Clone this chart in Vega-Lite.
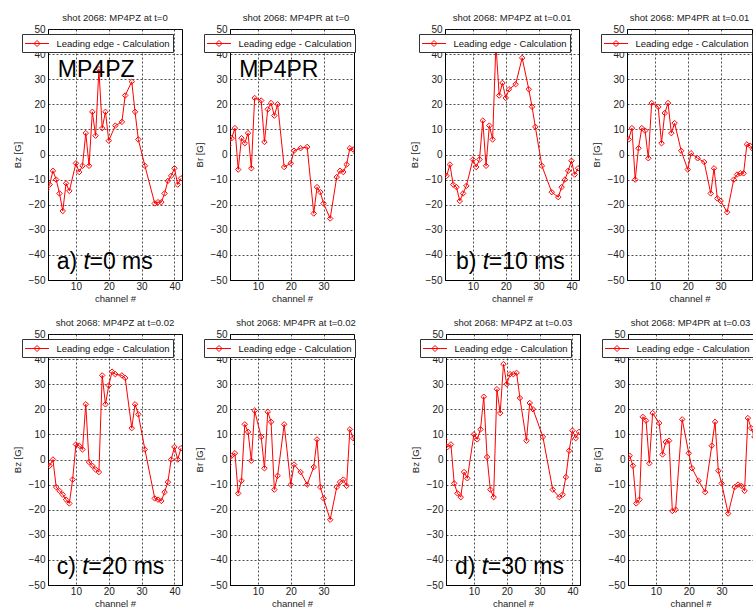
{
  "$schema": "https://vega.github.io/schema/vega-lite/v6.json",
  "padding": {"left": 11, "top": 12, "right": 0, "bottom": 0},
  "background": "#ffffff",
  "datasets": {
    "p1": [
      {"channel":1,"B":-14},{"channel":2,"B":-12},{"channel":3,"B":-6.5},{"channel":4,"B":-10},{"channel":5,"B":-15.5},{"channel":6,"B":-22.5},{"channel":7,"B":-11.5},{"channel":8,"B":-14.5},{"channel":10,"B":-3.5},{"channel":11,"B":-7},{"channel":12,"B":-4.5},{"channel":13,"B":8.5},{"channel":14,"B":-4.5},{"channel":15,"B":17},{"channel":16,"B":7.5},{"channel":17,"B":34},{"channel":18,"B":10.5},{"channel":19,"B":17},{"channel":20,"B":5.5},{"channel":22,"B":11.5},{"channel":24,"B":13},{"channel":25,"B":23.5},{"channel":27,"B":29},{"channel":28,"B":17},{"channel":29,"B":6},{"channel":31,"B":-4.5},{"channel":34,"B":-19.5},{"channel":35,"B":-19},{"channel":36,"B":-19},{"channel":37,"B":-15.5},{"channel":38,"B":-10.5},{"channel":39,"B":-8.5},{"channel":40,"B":-5.5},{"channel":41,"B":-12},{"channel":42,"B":-9.5}
    ],
    "p2": [
      {"channel":1,"B":3.5},{"channel":2,"B":6.5},{"channel":3,"B":10.5},{"channel":4,"B":-6},{"channel":5,"B":6.5},{"channel":6,"B":4.5},{"channel":7,"B":8.5},{"channel":8,"B":-5.5},{"channel":9,"B":22.5},{"channel":11,"B":21.5},{"channel":12,"B":5},{"channel":13,"B":18},{"channel":14,"B":20.5},{"channel":15,"B":15.5},{"channel":16,"B":20},{"channel":18,"B":-5},{"channel":20,"B":-3.5},{"channel":21,"B":1.5},{"channel":23,"B":2.5},{"channel":25,"B":3},{"channel":27,"B":-23.5},{"channel":28,"B":-13},{"channel":29,"B":-15},{"channel":30,"B":-19.5},{"channel":32,"B":-25.5},{"channel":34,"B":-9},{"channel":35,"B":-6.5},{"channel":36,"B":-7},{"channel":37,"B":-4},{"channel":38,"B":2.5},{"channel":39,"B":2},{"channel":40,"B":0.5},{"channel":41,"B":1.5},{"channel":42,"B":1}
    ],
    "p3": [
      {"channel":1,"B":-8},{"channel":2,"B":-8.5},{"channel":3,"B":-4},{"channel":4,"B":-12},{"channel":5,"B":-13},{"channel":6,"B":-18.5},{"channel":7,"B":-15.5},{"channel":8,"B":-12.5},{"channel":10,"B":-2},{"channel":11,"B":-5},{"channel":12,"B":-2},{"channel":13,"B":13.5},{"channel":14,"B":-4.5},{"channel":15,"B":11.5},{"channel":16,"B":6},{"channel":17,"B":44},{"channel":18,"B":23.5},{"channel":19,"B":28.5},{"channel":20,"B":22.5},{"channel":21,"B":26},{"channel":23,"B":28},{"channel":25,"B":38.5},{"channel":27,"B":26},{"channel":28,"B":19},{"channel":29,"B":11},{"channel":31,"B":-4.5},{"channel":34,"B":-15},{"channel":36,"B":-17},{"channel":37,"B":-13},{"channel":38,"B":-10},{"channel":39,"B":-6.5},{"channel":40,"B":-2.5},{"channel":41,"B":-8},{"channel":42,"B":-5.5}
    ],
    "p4": [
      {"channel":1,"B":6.5},{"channel":2,"B":6},{"channel":3,"B":10.5},{"channel":4,"B":-10},{"channel":5,"B":2.5},{"channel":6,"B":10.5},{"channel":7,"B":9.5},{"channel":8,"B":-1.5},{"channel":9,"B":20.5},{"channel":11,"B":19},{"channel":12,"B":4.5},{"channel":13,"B":16.5},{"channel":14,"B":20.5},{"channel":15,"B":8.5},{"channel":16,"B":12.5},{"channel":18,"B":1.5},{"channel":20,"B":-6},{"channel":21,"B":0.5},{"channel":23,"B":-1.5},{"channel":25,"B":-3},{"channel":27,"B":-15.5},{"channel":28,"B":-5.5},{"channel":29,"B":-17.5},{"channel":30,"B":-18.5},{"channel":32,"B":-23},{"channel":34,"B":-10},{"channel":35,"B":-8},{"channel":36,"B":-7.5},{"channel":37,"B":-7.5},{"channel":38,"B":4},{"channel":39,"B":3.5},{"channel":40,"B":2},{"channel":41,"B":3},{"channel":42,"B":2}
    ],
    "p5": [
      {"channel":1,"B":-2},{"channel":2,"B":-2.5},{"channel":3,"B":0},{"channel":4,"B":-11},{"channel":5,"B":-12.5},{"channel":6,"B":-14},{"channel":7,"B":-16},{"channel":8,"B":-17.5},{"channel":9,"B":-8},{"channel":10,"B":6},{"channel":11,"B":5.5},{"channel":12,"B":4},{"channel":13,"B":22},{"channel":14,"B":-1},{"channel":15,"B":-2.5},{"channel":16,"B":-4},{"channel":17,"B":-5},{"channel":18,"B":33.5},{"channel":19,"B":22},{"channel":20,"B":29.5},{"channel":21,"B":35},{"channel":22,"B":34},{"channel":24,"B":33.5},{"channel":25,"B":32.5},{"channel":27,"B":12.5},{"channel":28,"B":22},{"channel":29,"B":18},{"channel":31,"B":4},{"channel":34,"B":-15.5},{"channel":35,"B":-16},{"channel":36,"B":-16.5},{"channel":37,"B":-13},{"channel":38,"B":-9},{"channel":39,"B":0},{"channel":40,"B":5},{"channel":41,"B":0},{"channel":42,"B":4.5}
    ],
    "p6": [
      {"channel":1,"B":-2},{"channel":2,"B":1.5},{"channel":3,"B":2.5},{"channel":4,"B":-13.5},{"channel":5,"B":-8.5},{"channel":6,"B":14},{"channel":7,"B":11},{"channel":8,"B":-0.5},{"channel":9,"B":19.5},{"channel":11,"B":9},{"channel":12,"B":-3.5},{"channel":13,"B":19},{"channel":14,"B":15},{"channel":15,"B":-12},{"channel":16,"B":-6.5},{"channel":18,"B":14},{"channel":20,"B":-10},{"channel":21,"B":-2},{"channel":23,"B":-5},{"channel":25,"B":-10},{"channel":27,"B":-3},{"channel":28,"B":8},{"channel":29,"B":-11},{"channel":30,"B":-15.5},{"channel":32,"B":-24},{"channel":34,"B":-11},{"channel":35,"B":-9},{"channel":36,"B":-8},{"channel":37,"B":-10.5},{"channel":38,"B":12},{"channel":39,"B":8.5},{"channel":40,"B":6},{"channel":41,"B":5},{"channel":42,"B":3}
    ],
    "p7": [
      {"channel":1,"B":8},{"channel":2,"B":5},{"channel":3,"B":6},{"channel":4,"B":-9.5},{"channel":5,"B":-13.5},{"channel":6,"B":-15},{"channel":7,"B":-5},{"channel":8,"B":-7.5},{"channel":10,"B":10},{"channel":11,"B":8},{"channel":12,"B":12},{"channel":13,"B":25},{"channel":14,"B":1},{"channel":15,"B":-12},{"channel":16,"B":-15},{"channel":17,"B":28},{"channel":18,"B":18.5},{"channel":19,"B":38},{"channel":20,"B":30},{"channel":21,"B":34},{"channel":22,"B":34},{"channel":23,"B":34.5},{"channel":24,"B":24.5},{"channel":26,"B":7.5},{"channel":27,"B":22.5},{"channel":28,"B":20},{"channel":31,"B":9},{"channel":34,"B":-12},{"channel":36,"B":-15},{"channel":37,"B":-14},{"channel":38,"B":-7},{"channel":39,"B":3.5},{"channel":40,"B":11.5},{"channel":41,"B":8.5},{"channel":42,"B":11}
    ],
    "p8": [
      {"channel":1,"B":-0.5},{"channel":2,"B":1.5},{"channel":3,"B":-2.5},{"channel":4,"B":-17.5},{"channel":5,"B":-16},{"channel":6,"B":17},{"channel":7,"B":15.5},{"channel":8,"B":-1.5},{"channel":9,"B":18.5},{"channel":11,"B":14.5},{"channel":12,"B":2},{"channel":13,"B":7},{"channel":14,"B":7.5},{"channel":15,"B":-20.5},{"channel":16,"B":-20},{"channel":18,"B":16},{"channel":20,"B":2.5},{"channel":21,"B":-3.5},{"channel":23,"B":-8.5},{"channel":25,"B":-13},{"channel":27,"B":5.5},{"channel":28,"B":15},{"channel":29,"B":-4.5},{"channel":30,"B":-9.5},{"channel":32,"B":-21.5},{"channel":34,"B":-11},{"channel":35,"B":-10},{"channel":36,"B":-10.5},{"channel":37,"B":-12.5},{"channel":38,"B":16.5},{"channel":39,"B":12.5},{"channel":40,"B":9},{"channel":41,"B":12},{"channel":42,"B":10}
    ]
  },
  "spacing": 14,
  "resolve": {"scale": {"color": "independent"}, "legend": {"color": "independent"}},
  "vconcat": [
    {
      "spacing": 52,
      "resolve": {"scale": {"color": "independent"}, "legend": {"color": "independent"}},
      "hconcat": [
        {
          "spacing": 10,
          "resolve": {"scale": {"color": "independent"}, "legend": {"color": "independent"}},
          "hconcat": [
            {
              "width": 134, "height": 251,
              "title": "shot 2068: MP4PZ at t=0",
              "resolve": {"axis": {"x": "independent", "y": "independent"}},
              "layer": [
                {"data": {"name": "p1"},
                 "mark": {"type": "line", "strokeWidth": 1, "clip": true, "point": {"shape": "diamond", "filled": false, "size": 30, "strokeWidth": 1}},
                 "encoding": {
                   "x": {"field": "channel", "type": "quantitative", "scale": {"domain": [1.5, 42.3], "nice": false, "zero": false}, "axis": {"values": [10, 20, 30, 40], "title": "channel #"}},
                   "y": {"field": "B", "type": "quantitative", "scale": {"domain": [-50, 50], "nice": false}, "axis": {"values": [-50, -40, -30, -20, -10, 0, 10, 20, 30, 40, 50], "title": "Bz [G]"}},
                   "color": {"datum": "Leading edge - Calculation", "scale": {"range": ["#ff0000"]}, "legend": {"title": null, "orient": "none", "legendX": -26, "legendY": 5, "padding": 3, "strokeColor": "#333333", "fillColor": "#ffffff", "labelFontSize": 9.5, "labelColor": "#111111", "symbolType": "M-2,0L2,0M0,-0.5L0.5,0L0,0.5L-0.5,0Z", "symbolSize": 144, "symbolStrokeWidth": 1, "symbolOffset": 5.5, "labelOffset": 13, "symbolStrokeColor": "#ff0000", "symbolFillColor": "transparent", "labelLimit": 300}}
                 }},
                {"data": {"values": [{}]}, "mark": {"type": "text", "align": "left", "baseline": "middle", "fontSize": 23, "color": "#000000"}, "encoding": {"x": {"datum": 4.5, "axis": null}, "y": {"datum": 33.7, "axis": null}, "text": {"value": "MP4PZ"}}},
                {"data": {"values": [{}]}, "mark": {"type": "text", "align": "left", "baseline": "middle", "fontSize": 23, "color": "#000000"}, "encoding": {"x": {"datum": 4.15, "axis": null}, "y": {"datum": -42.8, "axis": null}, "text": {"value": "a)"}}},
                {"data": {"values": [{}]}, "mark": {"type": "text", "align": "left", "baseline": "middle", "fontSize": 23, "fontStyle": "italic", "color": "#000000", "dx": 26.8}, "encoding": {"x": {"datum": 4.15, "axis": null}, "y": {"datum": -42.8, "axis": null}, "text": {"value": "t"}}},
                {"data": {"values": [{}]}, "mark": {"type": "text", "align": "left", "baseline": "middle", "fontSize": 23, "color": "#000000", "dx": 32.8}, "encoding": {"x": {"datum": 4.15, "axis": null}, "y": {"datum": -42.8, "axis": null}, "text": {"value": "=0 ms"}}}
              ]
            },
            {
              "width": 124, "height": 251,
              "title": {"text": "shot 2068: MP4PR at t=0", "dx": 4},
              "resolve": {"axis": {"x": "independent", "y": "independent"}},
              "layer": [
                {"data": {"name": "p2"},
                 "mark": {"type": "line", "strokeWidth": 1, "clip": true, "point": {"shape": "diamond", "filled": false, "size": 30, "strokeWidth": 1}},
                 "encoding": {
                   "x": {"field": "channel", "type": "quantitative", "scale": {"domain": [1.5, 39.26], "nice": false, "zero": false}, "axis": {"values": [10, 20, 30], "title": "channel #"}},
                   "y": {"field": "B", "type": "quantitative", "scale": {"domain": [-50, 50], "nice": false}, "axis": {"values": [-50, -40, -30, -20, -10, 0, 10, 20, 30, 40, 50], "title": "Br [G]"}},
                   "color": {"datum": "Leading edge - Calculation", "scale": {"range": ["#ff0000"]}, "legend": {"title": null, "orient": "none", "legendX": -26, "legendY": 5, "padding": 3, "strokeColor": "#333333", "fillColor": "#ffffff", "labelFontSize": 9.5, "labelColor": "#111111", "symbolType": "M-2,0L2,0M0,-0.5L0.5,0L0,0.5L-0.5,0Z", "symbolSize": 144, "symbolStrokeWidth": 1, "symbolOffset": 5.5, "labelOffset": 13, "symbolStrokeColor": "#ff0000", "symbolFillColor": "transparent", "labelLimit": 300}}
                 }},
                {"data": {"values": [{}]}, "mark": {"type": "text", "align": "left", "baseline": "middle", "fontSize": 23, "color": "#000000"}, "encoding": {"x": {"datum": 4.3, "axis": null}, "y": {"datum": 33.7, "axis": null}, "text": {"value": "MP4PR"}}}
              ]
            }
          ]
        },
        {
          "spacing": 10,
          "resolve": {"scale": {"color": "independent"}, "legend": {"color": "independent"}},
          "hconcat": [
            {
              "width": 134, "height": 251,
              "title": "shot 2068: MP4PZ at t=0.01",
              "resolve": {"axis": {"x": "independent", "y": "independent"}},
              "layer": [
                {"data": {"name": "p3"},
                 "mark": {"type": "line", "strokeWidth": 1, "clip": true, "point": {"shape": "diamond", "filled": false, "size": 30, "strokeWidth": 1}},
                 "encoding": {
                   "x": {"field": "channel", "type": "quantitative", "scale": {"domain": [1.5, 42.3], "nice": false, "zero": false}, "axis": {"values": [10, 20, 30, 40], "title": "channel #"}},
                   "y": {"field": "B", "type": "quantitative", "scale": {"domain": [-50, 50], "nice": false}, "axis": {"values": [-50, -40, -30, -20, -10, 0, 10, 20, 30, 40, 50], "title": "Bz [G]"}},
                   "color": {"datum": "Leading edge - Calculation", "scale": {"range": ["#ff0000"]}, "legend": {"title": null, "orient": "none", "legendX": -26, "legendY": 5, "padding": 3, "strokeColor": "#333333", "fillColor": "#ffffff", "labelFontSize": 9.5, "labelColor": "#111111", "symbolType": "M-2,0L2,0M0,-0.5L0.5,0L0,0.5L-0.5,0Z", "symbolSize": 144, "symbolStrokeWidth": 1, "symbolOffset": 5.5, "labelOffset": 13, "symbolStrokeColor": "#ff0000", "symbolFillColor": "transparent", "labelLimit": 300}}
                 }},
                {"data": {"values": [{}]}, "mark": {"type": "text", "align": "left", "baseline": "middle", "fontSize": 23, "color": "#000000"}, "encoding": {"x": {"datum": 4.85, "axis": null}, "y": {"datum": -42.8, "axis": null}, "text": {"value": "b)"}}},
                {"data": {"values": [{}]}, "mark": {"type": "text", "align": "left", "baseline": "middle", "fontSize": 23, "fontStyle": "italic", "color": "#000000", "dx": 26.8}, "encoding": {"x": {"datum": 4.85, "axis": null}, "y": {"datum": -42.8, "axis": null}, "text": {"value": "t"}}},
                {"data": {"values": [{}]}, "mark": {"type": "text", "align": "left", "baseline": "middle", "fontSize": 23, "color": "#000000", "dx": 32.8}, "encoding": {"x": {"datum": 4.85, "axis": null}, "y": {"datum": -42.8, "axis": null}, "text": {"value": "=10 ms"}}}
              ]
            },
            {
              "width": 125, "height": 251,
              "title": {"text": "shot 2068: MP4PR at t=0.01", "dx": 0},
              "layer": [
                {"data": {"name": "p4"},
                 "mark": {"type": "line", "strokeWidth": 1, "clip": true, "point": {"shape": "diamond", "filled": false, "size": 30, "strokeWidth": 1}},
                 "encoding": {
                   "x": {"field": "channel", "type": "quantitative", "scale": {"domain": [1.5, 39.56], "nice": false, "zero": false}, "axis": {"values": [10, 20, 30], "title": "channel #"}},
                   "y": {"field": "B", "type": "quantitative", "scale": {"domain": [-50, 50], "nice": false}, "axis": {"values": [-50, -40, -30, -20, -10, 0, 10, 20, 30, 40, 50], "title": "Br [G]"}},
                   "color": {"datum": "Leading edge - Calculation", "scale": {"range": ["#ff0000"]}, "legend": {"title": null, "orient": "none", "legendX": -26, "legendY": 5, "padding": 3, "strokeColor": "#333333", "fillColor": "#ffffff", "labelFontSize": 9.5, "labelColor": "#111111", "symbolType": "M-2,0L2,0M0,-0.5L0.5,0L0,0.5L-0.5,0Z", "symbolSize": 144, "symbolStrokeWidth": 1, "symbolOffset": 5.5, "labelOffset": 13, "symbolStrokeColor": "#ff0000", "symbolFillColor": "transparent", "labelLimit": 300}}
                 }}
              ]
            }
          ]
        }
      ]
    },
    {
      "spacing": 52,
      "resolve": {"scale": {"color": "independent"}, "legend": {"color": "independent"}},
      "hconcat": [
        {
          "spacing": 10,
          "resolve": {"scale": {"color": "independent"}, "legend": {"color": "independent"}},
          "hconcat": [
            {
              "width": 134, "height": 251,
              "title": "shot 2068: MP4PZ at t=0.02",
              "resolve": {"axis": {"x": "independent", "y": "independent"}},
              "layer": [
                {"data": {"name": "p5"},
                 "mark": {"type": "line", "strokeWidth": 1, "clip": true, "point": {"shape": "diamond", "filled": false, "size": 30, "strokeWidth": 1}},
                 "encoding": {
                   "x": {"field": "channel", "type": "quantitative", "scale": {"domain": [1.5, 42.3], "nice": false, "zero": false}, "axis": {"values": [10, 20, 30, 40], "title": "channel #"}},
                   "y": {"field": "B", "type": "quantitative", "scale": {"domain": [-50, 50], "nice": false}, "axis": {"values": [-50, -40, -30, -20, -10, 0, 10, 20, 30, 40, 50], "title": "Bz [G]"}},
                   "color": {"datum": "Leading edge - Calculation", "scale": {"range": ["#ff0000"]}, "legend": {"title": null, "orient": "none", "legendX": -26, "legendY": 5, "padding": 3, "strokeColor": "#333333", "fillColor": "#ffffff", "labelFontSize": 9.5, "labelColor": "#111111", "symbolType": "M-2,0L2,0M0,-0.5L0.5,0L0,0.5L-0.5,0Z", "symbolSize": 144, "symbolStrokeWidth": 1, "symbolOffset": 5.5, "labelOffset": 13, "symbolStrokeColor": "#ff0000", "symbolFillColor": "transparent", "labelLimit": 300}}
                 }},
                {"data": {"values": [{}]}, "mark": {"type": "text", "align": "left", "baseline": "middle", "fontSize": 23, "color": "#000000"}, "encoding": {"x": {"datum": 4.15, "axis": null}, "y": {"datum": -42.8, "axis": null}, "text": {"value": "c)"}}},
                {"data": {"values": [{}]}, "mark": {"type": "text", "align": "left", "baseline": "middle", "fontSize": 23, "fontStyle": "italic", "color": "#000000", "dx": 25.6}, "encoding": {"x": {"datum": 4.15, "axis": null}, "y": {"datum": -42.8, "axis": null}, "text": {"value": "t"}}},
                {"data": {"values": [{}]}, "mark": {"type": "text", "align": "left", "baseline": "middle", "fontSize": 23, "color": "#000000", "dx": 31.6}, "encoding": {"x": {"datum": 4.15, "axis": null}, "y": {"datum": -42.8, "axis": null}, "text": {"value": "=20 ms"}}}
              ]
            },
            {
              "width": 124, "height": 251,
              "title": {"text": "shot 2068: MP4PR at t=0.02", "dx": 4},
              "layer": [
                {"data": {"name": "p6"},
                 "mark": {"type": "line", "strokeWidth": 1, "clip": true, "point": {"shape": "diamond", "filled": false, "size": 30, "strokeWidth": 1}},
                 "encoding": {
                   "x": {"field": "channel", "type": "quantitative", "scale": {"domain": [1.5, 39.26], "nice": false, "zero": false}, "axis": {"values": [10, 20, 30], "title": "channel #"}},
                   "y": {"field": "B", "type": "quantitative", "scale": {"domain": [-50, 50], "nice": false}, "axis": {"values": [-50, -40, -30, -20, -10, 0, 10, 20, 30, 40, 50], "title": "Br [G]"}},
                   "color": {"datum": "Leading edge - Calculation", "scale": {"range": ["#ff0000"]}, "legend": {"title": null, "orient": "none", "legendX": -26, "legendY": 5, "padding": 3, "strokeColor": "#333333", "fillColor": "#ffffff", "labelFontSize": 9.5, "labelColor": "#111111", "symbolType": "M-2,0L2,0M0,-0.5L0.5,0L0,0.5L-0.5,0Z", "symbolSize": 144, "symbolStrokeWidth": 1, "symbolOffset": 5.5, "labelOffset": 13, "symbolStrokeColor": "#ff0000", "symbolFillColor": "transparent", "labelLimit": 300}}
                 }}
              ]
            }
          ]
        },
        {
          "spacing": 10,
          "resolve": {"scale": {"color": "independent"}, "legend": {"color": "independent"}},
          "hconcat": [
            {
              "width": 134, "height": 251,
              "title": "shot 2068: MP4PZ at t=0.03",
              "resolve": {"axis": {"x": "independent", "y": "independent"}},
              "layer": [
                {"data": {"name": "p7"},
                 "mark": {"type": "line", "strokeWidth": 1, "clip": true, "point": {"shape": "diamond", "filled": false, "size": 30, "strokeWidth": 1}},
                 "encoding": {
                   "x": {"field": "channel", "type": "quantitative", "scale": {"domain": [1.5, 42.3], "nice": false, "zero": false}, "axis": {"values": [10, 20, 30, 40], "title": "channel #"}},
                   "y": {"field": "B", "type": "quantitative", "scale": {"domain": [-50, 50], "nice": false}, "axis": {"values": [-50, -40, -30, -20, -10, 0, 10, 20, 30, 40, 50], "title": "Bz [G]"}},
                   "color": {"datum": "Leading edge - Calculation", "scale": {"range": ["#ff0000"]}, "legend": {"title": null, "orient": "none", "legendX": -26, "legendY": 5, "padding": 3, "strokeColor": "#333333", "fillColor": "#ffffff", "labelFontSize": 9.5, "labelColor": "#111111", "symbolType": "M-2,0L2,0M0,-0.5L0.5,0L0,0.5L-0.5,0Z", "symbolSize": 144, "symbolStrokeWidth": 1, "symbolOffset": 5.5, "labelOffset": 13, "symbolStrokeColor": "#ff0000", "symbolFillColor": "transparent", "labelLimit": 300}}
                 }},
                {"data": {"values": [{}]}, "mark": {"type": "text", "align": "left", "baseline": "middle", "fontSize": 23, "color": "#000000"}, "encoding": {"x": {"datum": 4.25, "axis": null}, "y": {"datum": -42.8, "axis": null}, "text": {"value": "d)"}}},
                {"data": {"values": [{}]}, "mark": {"type": "text", "align": "left", "baseline": "middle", "fontSize": 23, "fontStyle": "italic", "color": "#000000", "dx": 26.8}, "encoding": {"x": {"datum": 4.25, "axis": null}, "y": {"datum": -42.8, "axis": null}, "text": {"value": "t"}}},
                {"data": {"values": [{}]}, "mark": {"type": "text", "align": "left", "baseline": "middle", "fontSize": 23, "color": "#000000", "dx": 32.8}, "encoding": {"x": {"datum": 4.25, "axis": null}, "y": {"datum": -42.8, "axis": null}, "text": {"value": "=30 ms"}}}
              ]
            },
            {
              "width": 125, "height": 251,
              "title": {"text": "shot 2068: MP4PR at t=0.03", "dx": 0},
              "layer": [
                {"data": {"name": "p8"},
                 "mark": {"type": "line", "strokeWidth": 1, "clip": true, "point": {"shape": "diamond", "filled": false, "size": 30, "strokeWidth": 1}},
                 "encoding": {
                   "x": {"field": "channel", "type": "quantitative", "scale": {"domain": [1.5, 39.56], "nice": false, "zero": false}, "axis": {"values": [10, 20, 30], "title": "channel #"}},
                   "y": {"field": "B", "type": "quantitative", "scale": {"domain": [-50, 50], "nice": false}, "axis": {"values": [-50, -40, -30, -20, -10, 0, 10, 20, 30, 40, 50], "title": "Br [G]"}},
                   "color": {"datum": "Leading edge - Calculation", "scale": {"range": ["#ff0000"]}, "legend": {"title": null, "orient": "none", "legendX": -26, "legendY": 5, "padding": 3, "strokeColor": "#333333", "fillColor": "#ffffff", "labelFontSize": 9.5, "labelColor": "#111111", "symbolType": "M-2,0L2,0M0,-0.5L0.5,0L0,0.5L-0.5,0Z", "symbolSize": 144, "symbolStrokeWidth": 1, "symbolOffset": 5.5, "labelOffset": 13, "symbolStrokeColor": "#ff0000", "symbolFillColor": "transparent", "labelLimit": 300}}
                 }}
              ]
            }
          ]
        }
      ]
    }
  ],
  "config": {
    "font": "Liberation Sans",
    "view": {"stroke": "#000000", "strokeWidth": 1},
    "axis": {"grid": true, "gridColor": "#222222", "gridDash": [2, 2], "gridWidth": 0.8, "domainColor": "#000000", "domainWidth": 1, "ticks": false, "labelFontSize": 10, "labelColor": "#222222", "labelPadding": 3, "labelFlush": false, "labelOverlap": false, "labelBound": false, "titleFontSize": 9.5, "titleFontWeight": "normal", "titleColor": "#222222"},
    "axisX": {"labelPadding": 1, "titlePadding": 2},
    "axisY": {"titlePadding": 6},
    "title": {"fontSize": 9.5, "fontWeight": "normal", "color": "#222222", "offset": 2},
    "line": {"color": "#ff0000"}
  }
}
